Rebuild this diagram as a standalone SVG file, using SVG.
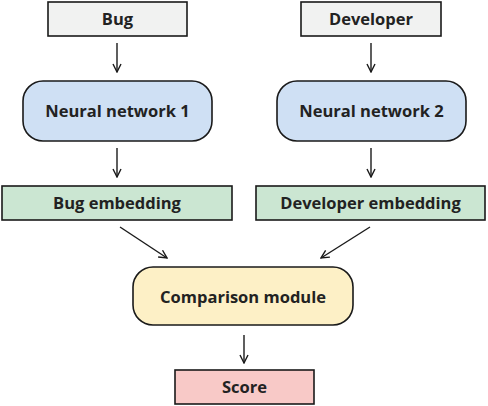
<svg xmlns="http://www.w3.org/2000/svg" width="488" height="406" viewBox="0 0 488 406">
<style>
text{font-family:"Open Sans","Noto Sans","DejaVu Sans",sans-serif;font-weight:700;font-size:16.5px;fill:#222;text-anchor:middle;dominant-baseline:central}
.b{stroke:#1a1a1a;stroke-width:1.6}
.in{fill:#f1f2f1}
.nn{fill:#cfe0f4}
.em{fill:#cbe6d2}
.cm{fill:#fdf0c6}
.sc{fill:#f8c9c7}
.c{stroke:#1a1a1a;stroke-width:1.4;fill:none;marker-end:url(#ah)}
</style>
<defs>
<marker id="ah" viewBox="0 0 10 10" refX="9" refY="5" markerWidth="10" markerHeight="10" markerUnits="userSpaceOnUse" orient="auto">
<path d="M1,1 L9,5 L1,9" fill="none" stroke="#1a1a1a" stroke-width="1.4"/>
</marker>
</defs>
<rect width="488" height="406" fill="#fff"/>
<g id="connectors">
<line class="c" x1="117" y1="43" x2="117" y2="72"/>
<line class="c" x1="371" y1="43" x2="371" y2="72"/>
<line class="c" x1="117" y1="148" x2="117" y2="177"/>
<line class="c" x1="371" y1="148" x2="371" y2="177"/>
<line class="c" x1="120" y1="227" x2="167" y2="258"/>
<line class="c" x1="370" y1="227" x2="321" y2="258"/>
<line class="c" x1="244" y1="335" x2="244" y2="363"/>
</g>
<g id="bug"><rect class="b in" x="48" y="2" width="139" height="34"/><text x="117.5" y="18.5">Bug</text></g>
<g id="developer"><rect class="b in" x="301" y="2" width="140" height="34"/><text x="371" y="18.5">Developer</text></g>
<g id="nn1"><rect class="b nn" x="23" y="81" width="189" height="60" rx="20"/><text x="117.5" y="110.5">Neural network 1</text></g>
<g id="nn2"><rect class="b nn" x="277" y="81" width="189" height="60" rx="20"/><text x="371.5" y="110.5">Neural network 2</text></g>
<g id="bugemb"><rect class="b em" x="2" y="186" width="230" height="34"/><text x="117" y="202.5">Bug embedding</text></g>
<g id="devemb"><rect class="b em" x="256" y="186" width="229" height="34"/><text x="370.5" y="202.5">Developer embedding</text></g>
<g id="comparison"><rect class="b cm" x="133" y="267" width="220" height="58" rx="20"/><text x="243" y="296">Comparison module</text></g>
<g id="score"><rect class="b sc" x="175" y="370" width="139" height="34"/><text x="244.5" y="386.5">Score</text></g>
</svg>
